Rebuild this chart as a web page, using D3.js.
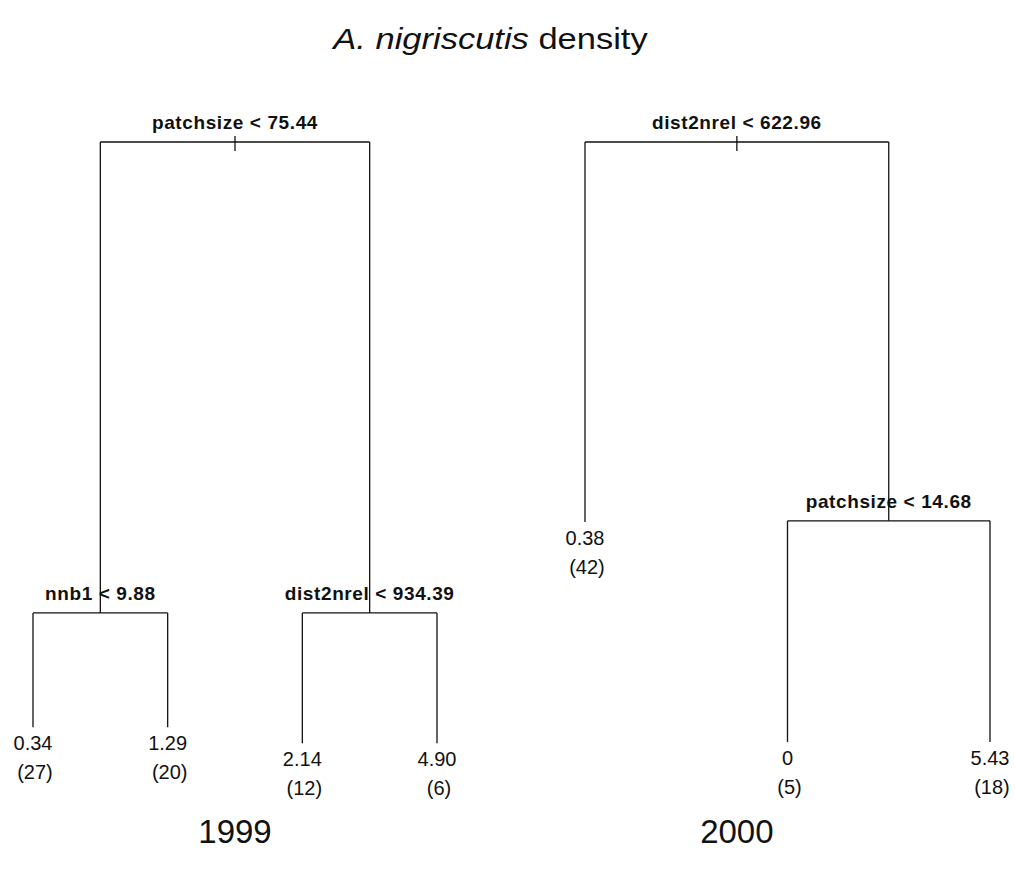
<!DOCTYPE html>
<html>
<head>
<meta charset="utf-8">
<script src="https://cdn.jsdelivr.net/npm/d3@7"></script>
<style>
  html, body { margin: 0; padding: 0; background: #fff; }
  svg { display: block; }
  text { font-family: "Liberation Sans", Arial, Helvetica, sans-serif; fill: #111; }
</style>
</head>
<body>
<svg id="chart" width="1015" height="871"></svg>
<script>
// Regression trees for A. nigriscutis density, one per survey year.
// height = node depth on the deviance axis (root = 1, fraction of root deviance).
const years = ["1999", "2000"];

const nodes1999 = [
  { id: "1", parent: null, split: "patchsize < 75.44", height: 1 },
  { id: "2", parent: "1", split: "nnb1 < 9.88", height: 0.238 },
  { id: "3", parent: "1", split: "dist2nrel < 934.39", height: 0.238 },
  { id: "4", parent: "2", mean: 0.34, n: 27, height: 0.053 },
  { id: "5", parent: "2", mean: 1.29, n: 20, height: 0.053 },
  { id: "6", parent: "3", mean: 2.14, n: 12, height: 0.027 },
  { id: "7", parent: "3", mean: 4.90, n: 6, height: 0.027 }
];

const nodes2000 = [
  { id: "1", parent: null, split: "dist2nrel < 622.96", height: 1 },
  { id: "2", parent: "1", mean: 0.38, n: 42, height: 0.385 },
  { id: "3", parent: "1", split: "patchsize < 14.68", height: 0.387 },
  { id: "6", parent: "3", mean: 0, n: 5, height: 0.029 },
  { id: "7", parent: "3", mean: 5.43, n: 18, height: 0.029 }
];

const trees = [nodes1999, nodes2000];

// Pixel span of the leaves in each panel.
const panels = [
  { leafRange: [33, 437] },
  { leafRange: [585, 990] }
];

const svg = d3.select("#chart");
const y = d3.scaleLinear().domain([0, 1]).range([760, 142]);
const fmtMean = v => v === 0 ? "0" : d3.format(".2f")(v);

// Title: species name in italics
const title = svg.append("g").attr("transform", "translate(490.5,49) scale(1.15,1)");
const tt = title.append("text").attr("text-anchor", "middle").style("font-size", "30px");
tt.append("tspan").style("font-style", "italic").text("A. nigriscutis");
tt.append("tspan").text(" density");

trees.forEach((nodes, ti) => {
  const root = d3.stratify().id(d => d.id).parentId(d => d.parent)(nodes);
  const leaves = root.leaves();
  const x = d3.scaleLinear().domain([1, leaves.length]).range(panels[ti].leafRange);

  // leaves sit at consecutive positions, splits at the mean of their children
  leaves.forEach((l, i) => { l.px = x(i + 1); });
  root.eachAfter(n => { if (n.children) n.px = d3.mean(n.children, c => c.px); });

  const g = svg.append("g");

  root.each(n => {
    if (!n.children) return;
    const ny = y(n.data.height);
    // horizontal bar joining the two branches
    g.append("line")
      .attr("x1", n.children[0].px).attr("x2", n.children[1].px)
      .attr("y1", ny).attr("y2", ny)
      .attr("stroke", "#111").attr("stroke-width", 1.3);
    // vertical drops to each child
    n.children.forEach(c => {
      g.append("line")
        .attr("x1", c.px).attr("x2", c.px)
        .attr("y1", ny).attr("y2", y(c.data.height))
        .attr("stroke", "#111").attr("stroke-width", 1.3);
    });
  });

  // tick marking the root split
  const ry = y(root.data.height);
  g.append("line")
    .attr("x1", root.px).attr("x2", root.px)
    .attr("y1", ry - 6).attr("y2", ry + 9)
    .attr("stroke", "#111").attr("stroke-width", 1.3);

  // split rules
  root.each(n => {
    if (!n.children) return;
    g.append("text")
      .attr("x", n.px).attr("y", y(n.data.height) - 13)
      .attr("text-anchor", "middle")
      .style("font-size", "19px").style("font-weight", "bold")
      .style("letter-spacing", "0.6px")
      .text(n.data.split);
  });

  // leaf means and sample sizes
  leaves.forEach(l => {
    const ly = y(l.data.height);
    g.append("text")
      .attr("x", l.px).attr("y", ly + 23)
      .attr("text-anchor", "middle").style("font-size", "20px")
      .text(fmtMean(l.data.mean));
    g.append("text")
      .attr("x", l.px + 2).attr("y", ly + 52)
      .attr("text-anchor", "middle").style("font-size", "20px")
      .text("(" + l.data.n + ")");
  });

  // year caption under the root split
  g.append("text")
    .attr("x", root.px).attr("y", 843)
    .attr("text-anchor", "middle").style("font-size", "33px")
    .text(years[ti]);
});
</script>
</body>
</html>
